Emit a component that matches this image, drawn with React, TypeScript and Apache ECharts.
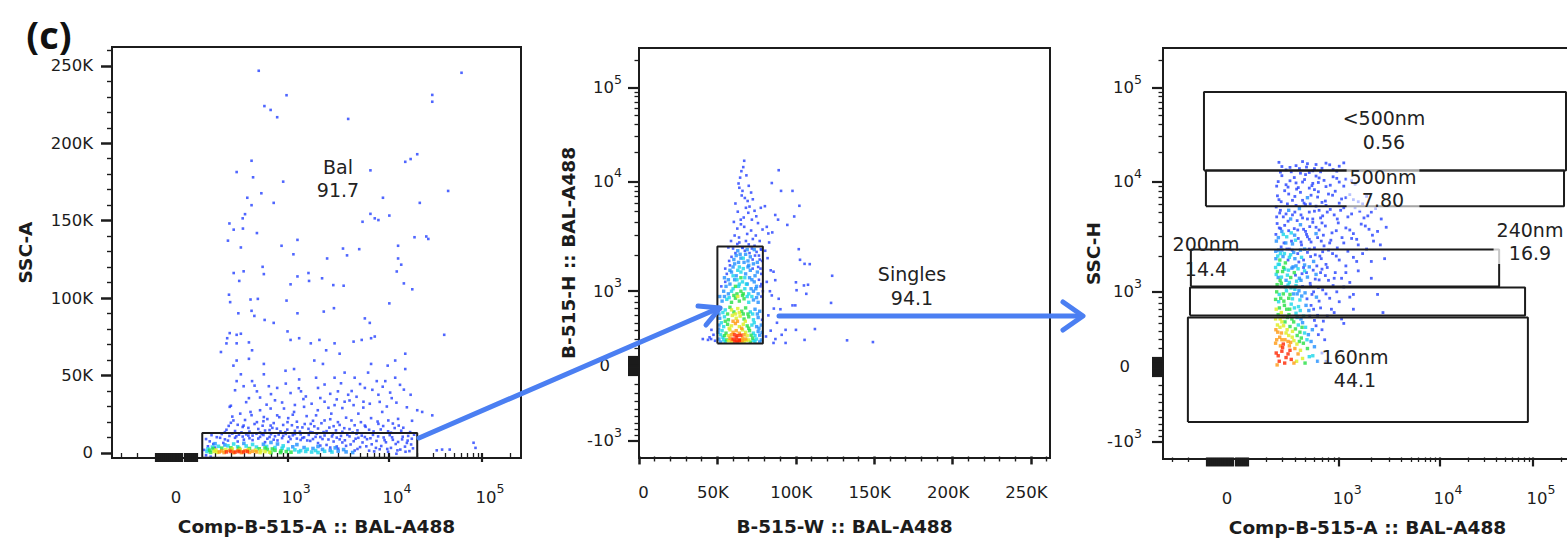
import React, { useEffect, useRef } from "react";
import * as echarts from "echarts";

// ---------- styling constants ----------
const FONT = '"DejaVu Sans", "Noto Sans", sans-serif';
const INK = "#1c1c1c";
const ARROW = "#4b7ff2";
const DENSITY_COLORS = ["#2340ff", "#1f8fff", "#17d6e8", "#25e043", "#dcee1e", "#ff9810", "#ff2400"];

// ---------- axis definitions ----------
const T_MAX = 262144;
const LOGICLE_M = 4.5;
const W_COMP = 0.75; // Comp-B-515-A :: BAL-A488 axis
const W_HEIGHT = 1.0; // B-515-H / SSC-H axes

const LINEAR_MAJOR = [0, 50000, 100000, 150000, 200000, 250000];
const LINEAR_MAJOR_LABELS = ["0", "50K", "100K", "150K", "200K", "250K"];
const LINEAR_MINOR = [10000, 20000, 30000, 40000, 60000, 70000, 80000, 90000, 110000, 120000, 130000, 140000, 160000, 170000, 180000, 190000, 210000, 220000, 230000, 240000, 260000];

const LOG_DECADE_MAJOR = [-1000, 0, 1000, 10000, 100000];
const LOG_ZERO_CLUSTER = [-100, -90, -80, -70, -60, -50, -40, -30, -20, -10, 10, 20, 30, 40, 50, 60, 70, 80, 90, 100];
const LOG_MINOR_MULT = [2, 3, 4, 5, 6, 7, 8, 9];
const LOG_MINOR_DECADES = [100, 1000, 10000, 100000];
const LOG_LABELS = [
  { value: -1000, base: "-10", exp: "3" },
  { value: 0, base: "0", exp: "" },
  { value: 1000, base: "10", exp: "3" },
  { value: 10000, base: "10", exp: "4" },
  { value: 100000, base: "10", exp: "5" },
];

// ---------- panel 1: Comp-B-515-A (x) vs SSC-A (y) ----------
const P1_SPARSE = [
  [545, 246800], [965, 231000], [612, 224000], [695, 221500], [795, 216800], [3780, 215700], [29000, 231200], [29000, 226800],
  [60000, 245500], [20000, 192900], [17000, 189800], [14900, 188000], [6400, 182500], [470, 188700], [342, 181400], [485, 178000],
  [900, 175200], [43000, 169200], [21300, 161500], [8650, 164800], [10100, 153300], [740, 161500], [575, 167700], [430, 164800],
  [470, 160000], [410, 154200], [390, 151500], [290, 148200], [320, 144200], [392, 144900], [525, 142000], [5300, 149300],
  [6400, 154400], [7100, 151500], [7750, 150400], [18700, 139300], [25000, 139800], [26300, 138200], [12500, 133800], [1215, 137600],
  [280, 137100], [375, 132700], [870, 133800], [1115, 128300], [3350, 132000], [3680, 127600], [4900, 131600], [2330, 125600],
  [12500, 125600], [590, 120200], [320, 116200], [398, 117300], [362, 111100], [605, 115500], [1540, 116200], [1215, 114000],
  [1560, 111100], [2080, 112800], [13500, 121600], [14400, 109500], [12100, 117200], [17700, 105700], [2680, 108400], [3400, 108000],
  [1050, 108900], [287, 102200], [295, 97400], [460, 99100], [535, 99500], [965, 98400], [355, 90200], [470, 91800],
  [498, 88500], [615, 85900], [2160, 91300], [1215, 90200], [2720, 93500], [5600, 86900], [6300, 84000], [10100, 96600], [39000, 76300],
  [275, 74100], [292, 77400], [342, 76300], [375, 77000], [270, 70760], [342, 70800], [445, 71400], [475, 66300], [740, 84000],
  [985, 78500], [1050, 73000], [1260, 74100], [1620, 70800], [1960, 73000], [2280, 66300], [2760, 70800], [4290, 71900], [5200, 73000],
  [6500, 74100], [7100, 75200], [3100, 64100], [2120, 57500], [1750, 59700], [1130, 54200], [945, 53100], [605, 57500], [445, 60800],
  [342, 59700], [318, 56400], [375, 50800], [342, 46400], [398, 43100], [475, 46400], [525, 39800], [670, 43100], [795, 42000],
  [1050, 38700], [1310, 39800], [1455, 36500], [1820, 48600], [2200, 44200], [2760, 48600], [3480, 51900], [4400, 48600], [6050, 51900],
  [6500, 57500], [7450, 46400], [9150, 46400], [11650, 48600], [14900, 54200], [17000, 37600], [14400, 40900], [10700, 35400], [7750, 37600],
  [5420, 33100], [4290, 30900], [3480, 33100], [2760, 30900], [2200, 33100], [1890, 27600], [1400, 29800], [1130, 26500], [915, 28700],
  [695, 28700], [560, 27600], [460, 26500], [370, 25400], [318, 21000], [398, 17700], [525, 19900], [695, 17700], [985, 19900],
  [1215, 16600], [1620, 18800], [2200, 21000], [2980, 19900], [4080, 21000], [5600, 17700], [7750, 18800], [9850, 21000], [12700, 17700],
  [20000, 27600], [22600, 26500], [29000, 24300], [445, 35400], [292, 29800], [8500, 26500], [4800, 25400], [2560, 25400], [795, 24300],
  [605, 23200], [2980, 39800], [5600, 42000], [3780, 37600], [1260, 47500], [605, 50800], [235, 65200], [11650, 59700], [14900, 64100],
  [9700, 56400], [37000, 2200], [44700, 2200], [81000, 6600], [85000, 3300], [32400, 1700],
  [270, 15000], [330, 14200], [390, 16800], [450, 13800], [540, 15500], [620, 14500], [720, 16200], [850, 13900], [980, 15100],
  [1150, 14300], [1350, 16500], [1600, 13600], [1900, 15800], [2300, 14100], [2700, 17300], [3300, 13700], [3900, 15400], [4700, 14600],
  [5700, 16900], [6900, 13900], [8200, 15200], [9800, 14000], [11500, 16100], [13500, 14400], [300, 19500], [600, 20500], [1000, 22500],
  [1700, 20800], [3600, 22800], [7600, 20300], [12500, 22000],
];
const P1_BAND = [
  [260, 13500], [285, 17500], [310, 23500], [350, 18200], [380, 13300], [410, 21300], [440, 16200], [470, 24400], [500, 18700],
  [560, 13200], [590, 17600], [650, 21900], [680, 14800], [740, 19300], [790, 15700], [830, 23100], [900, 18100], [940, 13400],
  [1080, 17900], [1100, 24700], [1200, 20200], [1280, 13800], [1420, 18700], [1480, 23800], [1540, 15600], [1680, 13300], [1750, 17200],
  [1820, 24300], [2050, 19200], [2150, 13500], [2450, 16400], [2500, 21800], [2850, 14600], [3100, 18100], [3450, 16000], [4200, 13200],
  [4400, 17900], [5100, 19900], [6200, 15000], [6500, 22500], [8700, 17400], [10500, 13100], [11000, 19000], [14200, 16300], [16800, 13500],
  [17600, 20800], [300, 30500], [420, 32800], [560, 35800], [640, 31200], [760, 34000], [880, 32600], [1150, 31000], [1380, 34800],
  [1650, 31800], [2000, 35500], [2400, 29200], [2900, 34600], [3300, 29000], [3900, 33900], [4600, 36300], [5400, 29300], [6300, 31800],
  [8000, 33000], [9500, 30000], [12000, 32500], [15500, 29500], [330, 40500], [500, 43500], [700, 38000], [950, 44800], [1250, 41800],
  [1900, 42000], [2500, 38200], [3200, 45000], [4100, 40000], [5000, 44500], [6700, 40800], [8600, 42800], [10300, 39000], [13100, 44000],
];
const P1_GATE_BLUE = [
  [150, 9000], [180, 11500], [210, 10200], [240, 12200], [260, 8800], [290, 11000], [310, 12500], [330, 9800], [360, 11800], [390, 10600],
  [420, 12000], [450, 9500], [480, 11200], [520, 12400], [560, 10400], [600, 11600], [650, 9200], [700, 12100], [760, 10800], [820, 11900],
  [880, 9600], [950, 12300], [1020, 10500], [1100, 11400], [1200, 9300], [1300, 12000], [1400, 10100], [1550, 11700], [1700, 9000], [1850, 12400],
  [2000, 10300], [2200, 11300], [2400, 8700], [2650, 12100], [2900, 9900], [3200, 11000], [3500, 8200], [3900, 10700], [4300, 7600], [4800, 9800],
  [5300, 6800], [5900, 8900], [6600, 5600], [7400, 7800], [8300, 4500], [9300, 6900], [10500, 3300], [11800, 5800], [13200, 2200], [14800, 4100],
  [16500, 1200], [18000, 3000], [12000, -500], [9800, 800], [8000, 2400], [6200, 1500], [5000, 3800], [4000, 5500], [3300, 6800], [2700, 7400],
  [2300, 5200], [1900, 6400], [1600, 7800], [1300, 8400], [1000, 7200], [800, 8100], [620, 7000], [480, 8300], [350, 7400], [250, 6500],
  [190, 5800], [160, 4300], [140, 2000], [150, -1500], [175, -2400], [200, 3500], [3000, 2800], [2500, 3500], [4400, 1600], [7000, 1000],
  [15500, 6500], [11000, 8500], [8800, 10000], [6800, 11700], [5600, 10300], [4600, 12400], [17500, 9200], [16000, 11000], [13800, 8800], [10200, 11500],
  [170, 7500], [230, 9800], [280, 8000], [340, 10800], [400, 8600], [440, 11200], [540, 9300], [580, 12200], [680, 10300], [740, 8600],
  [900, 11100], [1050, 9000], [1150, 12200], [1350, 9700], [1500, 8100], [1800, 10400], [2100, 9000], [2600, 10700], [3100, 8800], [3700, 11700],
  [4500, 9200], [5200, 11200], [6400, 9500], [7700, 10700], [9000, 8300], [10800, 10100], [12500, 7100], [14000, 10500], [15800, 8000], [18500, 11800],
  [3600, 4600], [5800, 4300], [7300, 3300], [9600, 2600], [12300, 1700], [15000, 800], [17200, 5500], [2000, 4800], [2900, 4200], [4700, 2600],
];
const P1_CORE = [
  [270, 700, 6], [300, 1000, 6], [330, 600, 6], [360, 900, 6], [395, 700, 6], [430, 1000, 6],
  [240, 1300, 5], [255, 300, 5], [290, 1700, 5], [320, 200, 5], [350, 1600, 5], [380, 250, 5], [410, 1500, 5], [450, 400, 5], [480, 1100, 5], [520, 700, 5], [225, 700, 5],
  [205, 1900, 4], [215, 400, 4], [265, 2200, 4], [310, 2500, 4], [370, 2300, 4], [440, 2100, 4], [510, 1800, 4], [570, 1400, 4], [620, 900, 4], [680, 500, 4], [560, 300, 4], [195, 1000, 4],
  [170, 1800, 3], [190, 2800, 3], [240, 3100, 3], [300, 3300, 3], [360, 3000, 3], [450, 2900, 3], [550, 2700, 3], [650, 2200, 3], [760, 1700, 3], [860, 1300, 3],
  [960, 900, 3], [1060, 500, 3], [850, 300, 3], [700, 200, 3], [175, 400, 3], [620, 3200, 3], [720, 2600, 3],
  [160, 2600, 2], [185, 3800, 2], [220, 4300, 2], [280, 4600, 2], [350, 4000, 2], [420, 4500, 2], [520, 3800, 2], [640, 4200, 2], [760, 3500, 2], [880, 3000, 2],
  [1000, 2500, 2], [1150, 2000, 2], [1300, 1500, 2], [1450, 1000, 2], [1650, 600, 2], [1900, 300, 2], [1250, 700, 2], [1500, 2400, 2], [1800, 1600, 2], [2200, 1100, 2],
  [2600, 600, 2], [480, 5500, 2], [900, 4600, 2], [320, 5800, 2], [155, 900, 2],
  [200, 6000, 1], [260, 5200, 1], [400, 6200, 1], [600, 5600, 1], [800, 5800, 1], [1100, 4000, 1], [1400, 3500, 1], [1700, 2900, 1], [2100, 2300, 1], [2500, 1700, 1],
  [3000, 1200, 1], [3600, 700, 1], [4200, 300, 1], [1900, 4200, 1], [2800, 3300, 1], [3400, 2200, 1], [700, 6800, 1], [1200, 5400, 1],
];
const P1_GATE = { x0: 130, x1: 20000, y0: -3000, y1: 12900 };

// ---------- panel 2: B-515-W (x) vs B-515-H (y) ----------
const P2_SPARSE = [
  [89100, 13000], [84700, 9600], [90600, 8000], [97900, 8000], [102300, 5700], [99000, 4500], [94600, 3750], [86900, 4650], [88700, 4200],
  [101900, 2270], [102700, 1840], [105600, 1700], [108900, 1690], [100100, 1190], [105200, 1120], [107800, 1135], [100500, 1020], [106700, 950],
  [123200, 1350], [122500, 790], [97900, 750], [99700, 750], [85800, 1460], [86900, 1240], [84700, 920], [89100, 860], [90200, 690],
  [93500, 410], [100100, 410], [105600, 290], [112200, 420], [132700, 285], [149200, 265], [93500, 255], [85800, 255], [44000, 290],
  [46200, 410], [40700, 300], [82000, 1900], [84000, 1500], [81500, 1200], [83500, 1000], [86000, 700], [82500, 600], [88000, 500],
  [84000, 400], [81000, 330], [87000, 300], [91000, 350], [80500, 2200], [83000, 2600], [85000, 3200], [81500, 3600],
  [67100, 16300], [65300, 12700], [64500, 10900], [64000, 8600], [66000, 8000], [67500, 6800], [69300, 6350], [71500, 7700], [72600, 6600],
  [68200, 5450], [69700, 4880], [73700, 5100], [74800, 4520], [77700, 5450], [80300, 5650], [64900, 4200], [62700, 3470], [67100, 3600],
  [71500, 3330], [75900, 3900], [78800, 3400], [63800, 2880], [68200, 2680], [72600, 2790], [77000, 2680], [62700, 2520], [66000, 2330],
  [73700, 2430], [77700, 2270], [82500, 3130], [58700, 2680], [66500, 14000], [68500, 11500], [63500, 9500], [70000, 9000], [65500, 7200],
  [61500, 6000], [70500, 5600], [63000, 5000], [66800, 4400], [60500, 4000], [72000, 4200], [65000, 3800], [69000, 3100], [61000, 3000],
  [74500, 3000], [64000, 2600], [70000, 2500], [46000, 300], [47500, 350], [45000, 320], [48500, 280],
];
const P2_CORE = [
  [60000, 2300, 0], [63000, 2200, 1], [66000, 2350, 0], [69000, 2250, 1], [72000, 2300, 0], [75000, 2150, 0], [78000, 2250, 0],
  [59000, 1950, 0], [62000, 2000, 1], [65000, 1900, 1], [68000, 2050, 1], [71000, 1950, 1], [74000, 2000, 0], [77000, 1850, 0],
  [58000, 1650, 0], [61000, 1700, 1], [64000, 1600, 2], [67000, 1750, 1], [70000, 1650, 1], [73000, 1700, 1], [76000, 1600, 0],
  [56000, 1400, 0], [59000, 1450, 1], [62000, 1350, 1], [65000, 1450, 2], [68000, 1400, 1], [71000, 1500, 1], [74000, 1350, 1], [78000, 1400, 0],
  [55000, 1200, 0], [58000, 1150, 1], [61000, 1250, 1], [63500, 1100, 2], [66000, 1200, 2], [69000, 1150, 1], [72000, 1250, 1], [75000, 1100, 1], [78000, 1150, 0],
  [54000, 1000, 1], [57000, 950, 1], [60000, 1050, 2], [62500, 950, 3], [65000, 1000, 3], [67500, 1050, 2], [70000, 950, 2], [73000, 1000, 1], [76000, 950, 1], [79000, 1000, 0],
  [53000, 820, 1], [56000, 850, 2], [59000, 800, 3], [61500, 870, 3], [64000, 820, 3], [67000, 860, 3], [70000, 800, 2], [73000, 840, 1], [76000, 800, 1],
  [52000, 700, 1], [55000, 680, 2], [58000, 720, 3], [60500, 650, 3], [63000, 700, 4], [65500, 660, 3], [68000, 710, 3], [71000, 650, 2], [74000, 690, 1], [77000, 660, 1],
  [51500, 560, 1], [54500, 580, 2], [57000, 540, 3], [59500, 600, 4], [62000, 560, 4], [64500, 590, 4], [67000, 550, 3], [70000, 580, 3], [73000, 540, 2], [76000, 570, 1], [78500, 540, 0],
  [51000, 470, 1], [54000, 450, 2], [56500, 480, 3], [59000, 460, 4], [61500, 490, 5], [64000, 450, 4], [66500, 480, 4], [69000, 460, 3], [72000, 470, 2], [75000, 450, 1], [78000, 470, 1],
  [50500, 380, 1], [53000, 400, 2], [55500, 370, 3], [58000, 410, 4], [60000, 380, 5], [62000, 400, 5], [64000, 370, 5], [66000, 410, 4], [68000, 380, 4], [70500, 400, 3], [73000, 370, 2], [76000, 390, 1], [78500, 380, 1],
  [51000, 300, 1], [53500, 320, 2], [56000, 290, 3], [58000, 310, 5], [60000, 300, 6], [62000, 320, 6], [64000, 290, 6], [66000, 310, 5], [68000, 300, 5], [70000, 290, 4], [72500, 310, 3], [75000, 300, 2], [78000, 290, 1],
  [52000, 265, 1], [55000, 270, 2], [59000, 265, 4], [61000, 275, 6], [63000, 265, 6], [65000, 270, 5], [67000, 268, 4], [71000, 265, 3], [74000, 270, 2], [77000, 266, 1],
  [57000, 2350, 0], [61500, 2100, 0], [64500, 2050, 1], [67500, 2200, 0], [70500, 2100, 0], [73500, 2250, 1], [76500, 2000, 0],
  [57500, 1800, 0], [60500, 1850, 1], [63500, 1750, 1], [66500, 1900, 2], [69500, 1800, 1], [72500, 1850, 0], [75500, 1750, 1], [78500, 1800, 0],
  [55000, 1550, 0], [58000, 1500, 1], [60000, 1600, 1], [63000, 1500, 2], [66500, 1550, 2], [69500, 1600, 1], [72500, 1550, 0], [75500, 1450, 1], [77500, 1550, 0],
  [54500, 1300, 1], [57000, 1250, 1], [60000, 1350, 2], [62500, 1250, 2], [65000, 1300, 3], [67500, 1300, 2], [70500, 1300, 1], [73500, 1200, 1], [76500, 1250, 0],
  [52500, 1100, 0], [55500, 1100, 1], [59000, 1000, 2], [61500, 1100, 3], [64000, 1150, 2], [66500, 950, 3], [68500, 1150, 2], [71500, 1050, 1], [74500, 1050, 1], [77500, 1100, 0],
  [51500, 900, 1], [54500, 900, 1], [57500, 880, 2], [60500, 920, 3], [63000, 900, 4], [66000, 920, 3], [69000, 900, 2], [72000, 900, 2], [75000, 880, 1], [78000, 900, 0],
  [51000, 620, 1], [53500, 640, 2], [56500, 620, 3], [59000, 680, 4], [61500, 620, 4], [64000, 640, 4], [66500, 620, 3], [69500, 620, 3], [72500, 620, 2], [75500, 620, 1],
  [50800, 420, 1], [52500, 500, 2], [55000, 520, 3], [57500, 430, 4], [60000, 520, 5], [62800, 520, 5], [65500, 430, 5], [67800, 520, 4], [70000, 430, 3], [73500, 500, 2], [76500, 430, 1],
  [52000, 350, 2], [54500, 340, 3], [57000, 340, 4], [59000, 350, 5], [61000, 350, 6], [63000, 340, 6], [65000, 345, 6], [67000, 350, 5], [69000, 340, 4], [71500, 345, 3], [74000, 340, 2], [77000, 345, 1],
  [54000, 290, 2], [57000, 280, 4], [59000, 290, 5], [62000, 285, 6], [64000, 285, 6], [66000, 285, 5], [68500, 285, 4], [73000, 285, 2],
];
const P2_GATE = { x0: 50000, x1: 79000, y0: 250, y1: 2400 };

// ---------- panel 3: Comp-B-515-A (x) vs SSC-H (y) ----------
const P3_POINTS = [
  [262, 150, 6], [282, 60, 6], [305, 210, 6], [330, 100, 6], [360, 180, 6], [392, 40, 5], [428, 140, 5], [470, 90, 4], [520, 200, 3], [580, 120, 2], [640, 60, 1],
  [275, 120, 6], [300, 170, 6], [320, 40, 6], [345, 140, 6], [370, 80, 6], [290, 230, 5], [355, 230, 5], [400, 200, 5], [268, 20, 5], [415, 60, 4], [450, 180, 4],
  [495, 40, 3], [540, 110, 2], [600, 220, 1], [700, 150, 0], [760, 60, 0],
  [260, 420, 5], [285, 330, 5], [312, 470, 4], [345, 280, 5], [380, 400, 4], [420, 350, 3], [465, 450, 3], [515, 300, 2], [575, 420, 1], [650, 360, 0], [740, 300, 0],
  [300, 300, 5], [330, 380, 4], [265, 300, 5], [360, 460, 3], [440, 280, 3], [490, 380, 2], [620, 470, 0], [700, 420, 0],
  [262, 700, 4], [288, 560, 4], [318, 760, 3], [352, 620, 3], [390, 520, 3], [432, 740, 2], [480, 600, 2], [535, 680, 1], [600, 540, 0], [680, 720, 0], [780, 600, 0], [900, 650, 0], [1050, 560, 0],
  [275, 620, 3], [300, 520, 4], [335, 700, 3], [370, 780, 2], [410, 640, 2], [455, 560, 1], [560, 760, 0], [640, 610, 0],
  [265, 1000, 3], [292, 880, 3], [325, 1100, 2], [360, 950, 3], [400, 1050, 2], [445, 850, 2], [495, 980, 1], [555, 1120, 0], [625, 900, 1], [710, 1040, 0], [820, 880, 0], [950, 1000, 0], [1100, 1100, 0], [1350, 950, 0],
  [278, 820, 2], [310, 960, 3], [345, 1140, 2], [380, 870, 2], [420, 960, 1], [470, 1110, 0], [590, 1000, 0], [660, 830, 0],
  [262, 1400, 2], [288, 1250, 3], [320, 1550, 2], [355, 1200, 2], [395, 1450, 3], [440, 1300, 1], [490, 1500, 2], [550, 1180, 0], [620, 1400, 1], [700, 1550, 0], [800, 1250, 0], [920, 1450, 0], [1050, 1300, 0], [1250, 1200, 0], [1500, 1500, 0],
  [275, 1320, 1], [305, 1480, 3], [340, 1380, 2], [375, 1580, 1], [415, 1230, 2], [465, 1420, 0], [520, 1330, 1], [585, 1520, 0], [660, 1260, 0], [750, 1370, 0],
  [260, 1900, 1], [290, 2100, 2], [325, 1750, 3], [365, 2050, 2], [410, 1650, 1], [460, 1950, 2], [520, 2150, 0], [590, 1800, 1], [670, 2000, 0], [760, 1700, 0], [870, 2100, 0], [1000, 1850, 0], [1150, 1650, 0], [1350, 1950, 0], [1650, 2100, 0], [2000, 1800, 0],
  [275, 1700, 2], [308, 1980, 1], [345, 1850, 0], [390, 2150, 1], [435, 1780, 0], [490, 1680, 1], [555, 1980, 0], [630, 1650, 0], [710, 2180, 0],
  [263, 2700, 1], [295, 2400, 0], [335, 2950, 2], [380, 2550, 1], [430, 2850, 0], [490, 2300, 1], [560, 2650, 0], [640, 2900, 0], [730, 2450, 0], [840, 2750, 0], [960, 2350, 0], [1100, 2600, 0], [1300, 2850, 0], [1500, 2500, 0], [1800, 2300, 0], [2100, 2700, 0],
  [278, 2250, 1], [315, 2600, 0], [355, 2300, 0], [405, 2750, 2], [460, 2500, 0], [520, 2950, 0], [600, 2350, 0], [690, 2700, 0],
  [268, 3900, 0], [300, 3300, 1], [345, 4100, 0], [395, 3500, 0], [450, 3800, 1], [510, 3100, 0], [580, 4000, 0], [660, 3400, 0], [750, 3700, 0], [860, 3200, 0], [980, 3950, 0], [1150, 3550, 0], [1350, 3150, 0], [1600, 3850, 0], [1900, 3450, 0], [2300, 3300, 0],
  [282, 3550, 0], [320, 3750, 0], [370, 3200, 2], [420, 4150, 0], [480, 3450, 0], [545, 3650, 0], [620, 3150, 1], [700, 3950, 0],
  [262, 5600, 0], [310, 4500, 0], [350, 5200, 1], [410, 5800, 0], [470, 4400, 0], [540, 5000, 0], [620, 5700, 0], [710, 4600, 0], [830, 5300, 0], [960, 4300, 0], [1100, 5500, 0], [1300, 4800, 0], [1550, 5100, 0], [1850, 4600, 0], [2200, 5400, 0],
  [285, 4900, 0], [380, 4700, 0], [440, 5400, 1], [500, 5900, 0], [580, 4300, 0], [660, 5200, 0], [760, 5800, 0],
  [270, 7200, 0], [320, 8100, 0], [380, 6500, 0], [450, 7800, 0], [520, 6900, 1], [600, 8300, 0], [700, 6200, 0], [800, 7500, 0], [920, 8000, 0], [1050, 6700, 0], [1250, 7400, 0], [1500, 6300, 0], [1800, 7100, 0],
  [295, 6300, 0], [350, 7500, 0], [415, 8400, 0], [485, 6100, 0], [560, 7300, 0], [650, 7900, 0],
  [265, 9000, 0], [300, 11500, 0], [360, 10200, 0], [430, 8700, 0], [500, 11800, 0], [580, 9600, 0], [660, 10900, 0], [760, 8900, 0], [880, 11200, 0], [1000, 9900, 0], [1150, 10600, 0], [1400, 9400, 0],
  [330, 9300, 0], [395, 11000, 0], [470, 9900, 0], [540, 8600, 0], [620, 11400, 0],
  [280, 15800, 0], [330, 13200, 0], [410, 14600, 0], [470, 16100, 0], [540, 12400, 0], [620, 15000, 0], [700, 13700, 0], [820, 14900, 0], [950, 12800, 0], [1100, 15600, 0],
  [370, 12600, 0], [440, 13600, 0], [510, 14100, 0], [580, 12900, 0], [300, 14300, 0],
  [2600, 650, 0], [2300, 950, 0], [2000, 1300, 0], [2700, 1900, 0], [2450, 2500, 0], [2800, 3600, 0], [2500, 4300, 0], [1250, 900, 0], [1100, 500, 0], [1350, 700, 0],
  [258, 260, 5], [272, 390, 5], [287, 450, 4], [297, 380, 5], [310, 250, 6], [322, 300, 5], [338, 420, 4], [350, 350, 4], [365, 270, 5], [378, 330, 4],
  [392, 290, 4], [405, 430, 3], [418, 250, 4], [430, 480, 2], [445, 390, 3], [458, 320, 3], [478, 260, 3], [500, 450, 2], [530, 360, 1], [560, 280, 1],
  [258, 560, 4], [270, 480, 4], [283, 720, 3], [296, 650, 4], [309, 590, 4], [322, 520, 3], [340, 580, 3], [358, 700, 3], [375, 560, 3], [396, 720, 2],
  [420, 580, 2], [448, 680, 2], [470, 510, 1], [505, 760, 1], [545, 600, 0], [590, 700, 0], [720, 530, 0], [850, 700, 0],
  [258, 860, 3], [268, 1150, 3], [282, 950, 2], [296, 1180, 3], [314, 830, 3], [333, 1020, 2], [350, 880, 3], [368, 1080, 2], [388, 960, 1], [410, 1130, 2],
  [436, 1020, 1], [462, 920, 1], [515, 870, 0], [570, 950, 0], [650, 1090, 0], [760, 960, 0], [880, 1130, 0], [1000, 820, 0],
  [258, 1600, 2], [270, 1480, 3], [283, 1700, 2], [297, 1330, 2], [312, 1600, 3], [330, 1250, 1], [348, 1520, 2], [366, 1320, 3], [385, 1620, 1], [405, 1380, 0],
  [428, 1560, 2], [455, 1250, 1], [480, 1600, 0], [510, 1450, 0], [540, 1620, 1], [610, 1280, 0], [680, 1450, 0], [780, 1600, 0], [900, 1300, 0], [1150, 1450, 0],
  [259, 2200, 1], [272, 2000, 2], [286, 1850, 3], [300, 2250, 1], [318, 2100, 2], [336, 2300, 0], [355, 1950, 2], [378, 2250, 0], [400, 1900, 1], [425, 2100, 0],
  [450, 2250, 1], [480, 1850, 0], [540, 2300, 0], [610, 2050, 0], [690, 1900, 0], [800, 2250, 0], [940, 2000, 0], [1200, 2200, 0], [1450, 1800, 0],
  [260, 3100, 0], [276, 2900, 1], [292, 3500, 0], [310, 3100, 2], [328, 2600, 1], [350, 3350, 0], [372, 2700, 0], [398, 3050, 1], [425, 3400, 0], [455, 2650, 0],
  [500, 3300, 0], [540, 2800, 0], [620, 3600, 0], [720, 3050, 0], [820, 2600, 0], [940, 3350, 0], [1060, 2900, 0], [1250, 3400, 0], [1450, 2800, 0], [1750, 3700, 0], [2050, 3050, 0],
  [265, 4500, 0], [290, 5200, 0], [330, 4800, 0], [365, 4300, 1], [400, 5000, 0], [455, 4700, 0], [520, 4300, 0], [600, 5100, 0], [680, 4400, 0], [780, 5000, 0],
  [900, 4700, 0], [1030, 5200, 0], [1200, 4500, 0], [1400, 5500, 0], [1700, 4400, 0], [2000, 5000, 0],
  [280, 6600, 0], [340, 6000, 0], [400, 7100, 0], [470, 6500, 0], [550, 6000, 0], [640, 7000, 0], [750, 6400, 0], [870, 7300, 0], [1000, 6100, 0], [1150, 6900, 0], [1350, 6600, 0], [1650, 6000, 0],
  [275, 10000, 0], [345, 8800, 0], [410, 9700, 0], [490, 10500, 0], [570, 9100, 0], [650, 9800, 0], [730, 10300, 0], [830, 9200, 0], [950, 10800, 0], [1100, 9000, 0], [1300, 10200, 0],
  [290, 12500, 0], [360, 14000, 0], [450, 12200, 0], [520, 15300, 0], [600, 13600, 0], [680, 12600, 0], [760, 15500, 0], [880, 13300, 0], [1000, 14400, 0],
];
const P3_GATES = [
  { name: "<500nm", x0: -113, x1: 228000, y0: 13000, y1: 89500 },
  { name: "500nm", x0: -103, x1: 217000, y0: 5700, y1: 13000 },
  { name: "200nm", x0: -183, x1: 43000, y0: 1108, y1: 2280 },
  { name: "240nm", x0: -188, x1: 82000, y0: 606, y1: 1087 },
  { name: "160nm", x0: -200, x1: 88000, y0: -664, y1: 578 },
];

// ---------- logicle (biexponential) scale ----------
function logicle(W: number) {
  const w = W * Math.LN10;
  const m = LOGICLE_M * Math.LN10;
  let lo = 1.000001, hi = 1000;
  for (let i = 0; i < 200; i++) {
    const mid = (lo + hi) / 2;
    if ((2 * mid * Math.log(mid)) / (mid + 1) > w) hi = mid; else lo = mid;
  }
  const p = (lo + hi) / 2;
  const k = T_MAX * Math.exp(-(m - w));
  const S = (x: number): number =>
    x >= w ? k * (Math.exp(x - w) - p * p * Math.exp(-(x - w) / p) + p * p - 1) : -S(2 * w - x);
  return (v: number) => {
    let a = -m, b = 2 * m;
    for (let i = 0; i < 70; i++) {
      const c = (a + b) / 2;
      if (S(c) < v) a = c; else b = c;
    }
    return (a + b) / 2 / Math.LN10;
  };
}
const tComp = logicle(W_COMP);
const tHeight = logicle(W_HEIGHT);
const ident = (v: number) => v;

// axis display ranges (in logicle decades / raw linear units)
const COMP_RANGE = [0.054, 4.504];
const HEIGHT_RANGE = [-0.017, 4.514];
const SSCA_RANGE = [-3240, 262144];
const WIDTH_RANGE = [0, 262144];

const TITLE_STYLE = { fontFamily: FONT, fontSize: 18.5, fontWeight: "bold", color: INK };
const tick = (w: number) => ({ color: INK, width: w });

function near(a: number, b: number) { return Math.abs(a - b) < 1e-6; }

function linearAxes(dim: "x" | "y", gridIndex: number, range: number[], margin: number, name: string, nameGap: number) {
  const rich = {
    a: { fontFamily: FONT, fontSize: 16.5, color: INK },
    sp: { width: 9, fontFamily: FONT, fontSize: 16.5 },
  };
  const fmt = (v: number) => {
    const i = LINEAR_MAJOR.findIndex((m) => near(m, v));
    const t = i >= 0 ? LINEAR_MAJOR_LABELS[i] : "";
    if (dim === "y") return `{a|${t}}`;
    return v === 0 ? `{sp|\u00a0}{a|${t}}` : `{a|${t}}{sp|\u00a0}`;
  };
  const common = {
    gridIndex, type: "value", min: range[0], max: range[1], position: dim === "x" ? "bottom" : "left",
    axisLine: { show: false }, splitLine: { show: false },
  };
  return [
    {
      ...common,
      axisTick: { show: true, customValues: LINEAR_MAJOR, length: dim === "x" ? 8 : 11, lineStyle: tick(2.5) },
      axisLabel: { show: true, customValues: LINEAR_MAJOR, margin, formatter: fmt, rich, color: INK },
      name, nameLocation: "middle", nameGap, nameTextStyle: TITLE_STYLE,
    },
    {
      ...common,
      axisTick: { show: true, customValues: LINEAR_MINOR, length: 5, lineStyle: tick(1.4) },
      axisLabel: { show: false },
    },
  ];
}

function logAxes(dim: "x" | "y", gridIndex: number, t: (v: number) => number, range: number[], margin: number, name: string, nameGap: number) {
  const inRange = (d: number) => d >= range[0] && d <= range[1];
  const minorRaw: number[] = [];
  LOG_MINOR_DECADES.forEach((d) => LOG_MINOR_MULT.forEach((mult) => { minorRaw.push(mult * d); if (d <= 1000) minorRaw.push(-mult * d); }));
  const major = [...LOG_DECADE_MAJOR, ...LOG_ZERO_CLUSTER].map(t).filter(inRange);
  const minor = minorRaw.map(t).filter(inRange);
  const labels = LOG_LABELS.map((l) => ({ pos: t(l.value), ...l })).filter((l) => inRange(l.pos));
  const rich = {
    b: { fontFamily: FONT, fontSize: 16.5, lineHeight: 30, color: INK },
    s: { fontFamily: FONT, fontSize: 12.5, lineHeight: 12, verticalAlign: "top", color: INK },
    sp: { width: 16, fontFamily: FONT, fontSize: 16.5, lineHeight: 30 },
    sr: { width: 12, fontFamily: FONT, fontSize: 16.5, lineHeight: 30 },
  };
  const fmt = (v: number) => {
    const l = labels.find((q) => Math.abs(q.pos - v) < 1e-6);
    if (!l) return "";
    if (l.exp === "") return dim === "x" ? `{b|${l.base}}` : `{b|${l.base}}{sr|\u00a0}`;
    return dim === "x" ? `{sp|\u00a0}{b|${l.base}}{s|${l.exp}}` : `{b|${l.base}}{s|${l.exp}}`;
  };
  const common = {
    gridIndex, type: "value", min: range[0], max: range[1], position: dim === "x" ? "bottom" : "left",
    axisLine: { show: false }, splitLine: { show: false },
  };
  return [
    {
      ...common,
      axisTick: { show: true, customValues: major, length: dim === "x" ? 9 : 11, lineStyle: tick(2.2) },
      axisLabel: { show: true, customValues: labels.map((l) => l.pos), margin, formatter: fmt, rich, color: INK },
      name, nameLocation: "middle", nameGap, nameTextStyle: TITLE_STYLE,
    },
    {
      ...common,
      axisTick: { show: true, customValues: minor, length: 4.5, lineStyle: tick(1.3) },
      axisLabel: { show: false },
    },
  ];
}

function rectPath(g: { x0: number; x1: number; y0: number; y1: number }, fx: (v: number) => number, fy: (v: number) => number) {
  return [
    [fx(g.x0), fy(g.y0)], [fx(g.x1), fy(g.y0)], [fx(g.x1), fy(g.y1)], [fx(g.x0), fy(g.y1)], [fx(g.x0), fy(g.y0)],
  ];
}

function scatterSeries(idx: number, pts: number[][], fx: (v: number) => number, fy: (v: number) => number, small: number, big: number) {
  const data = pts
    .map((p) => [fx(p[0]), fy(p[1]), p[2]])
    .sort((a, b) => a[2] - b[2]);
  return {
    type: "scatter", xAxisIndex: idx, yAxisIndex: idx, data, symbol: "rect",
    symbolSize: (v: number[]) => (v[2] === 0 ? small : big),
    itemStyle: { color: (p: any) => DENSITY_COLORS[p.data[2]] },
    silent: true, z: 2,
  };
}

function gateSeries(idx: number, g: any, fx: (v: number) => number, fy: (v: number) => number) {
  return {
    type: "line", xAxisIndex: idx, yAxisIndex: idx, data: rectPath(g, fx, fy), symbol: "none", showSymbol: false,
    lineStyle: { color: INK, width: 2 }, silent: true, z: 5,
  };
}

function label(text: string, x: number, y: number, lh: number, bg?: string) {
  return {
    type: "text", x, y, z: 100,
    style: {
      text, fill: "#222", fontFamily: FONT, fontSize: 19, lineHeight: lh,
      align: "center", verticalAlign: "middle", textAlign: "center", textVerticalAlign: "middle",
      backgroundColor: bg || "transparent", padding: bg ? [0, 3] : 0,
    },
  };
}

function buildOption() {
  const grids = [
    { left: 112, top: 47, width: 409, height: 411 },
    { left: 639, top: 48, width: 411, height: 410 },
    { left: 1163, top: 48, width: 409, height: 411 },
  ].map((g) => ({ ...g, show: true, borderColor: INK, borderWidth: 2, backgroundColor: "transparent", containLabel: false, outerBoundsMode: "none" }));

  const xAxis = [
    ...logAxes("x", 0, tComp, COMP_RANGE, 24, "Comp-B-515-A :: BAL-A488", 59),
    ...linearAxes("x", 1, WIDTH_RANGE, 26, "B-515-W :: BAL-A488", 59),
    ...logAxes("x", 2, tComp, COMP_RANGE, 24, "Comp-B-515-A :: BAL-A488", 59),
  ];
  const yAxis = [
    ...linearAxes("y", 0, SSCA_RANGE, 19, "SSC-A", 77),
    ...logAxes("y", 1, tHeight, HEIGHT_RANGE, 17, "B-515-H :: BAL-A488", 61),
    ...logAxes("y", 2, tHeight, HEIGHT_RANGE, 21, "SSC-H", 60),
  ];

  const p1 = [
    ...P1_SPARSE.map((p) => [p[0], p[1], 0]),
    ...P1_BAND.map((p) => [p[0], p[1], 0]),
    ...P1_GATE_BLUE.map((p) => [p[0], p[1], 0]),
    ...P1_CORE,
  ];
  const p2 = [...P2_SPARSE.map((p) => [p[0], p[1], 0]), ...P2_CORE];

  const series = [
    scatterSeries(0, p1, tComp, ident, 2.6, 3.6),
    gateSeries(0, P1_GATE, tComp, ident),
    scatterSeries(2, p2, ident, tHeight, 2.6, 3.4),
    gateSeries(2, P2_GATE, ident, tHeight),
    scatterSeries(4, P3_POINTS, tComp, tHeight, 2.8, 3.4),
    ...P3_GATES.map((g) => gateSeries(4, g, tComp, tHeight)),
  ];

  const arrowStyle = { stroke: ARROW, lineWidth: 5, lineCap: "round", lineJoin: "round", fill: "none" };
  const graphic = [
    {
      type: "text", x: 49, y: 34, z: 100,
      style: { text: "(c)", fill: "#111", fontFamily: '"Open Sans", "Noto Sans", sans-serif', fontWeight: "bold", fontSize: 38, align: "center", verticalAlign: "middle", textAlign: "center", textVerticalAlign: "middle" },
    },
    { type: "line", z: 90, shape: { x1: 419, y1: 438, x2: 719, y2: 308 }, style: arrowStyle },
    { type: "polyline", z: 90, shape: { points: [[698, 306], [720, 308], [706, 325]] }, style: arrowStyle },
    { type: "line", z: 90, shape: { x1: 779, y1: 316, x2: 1081, y2: 316 }, style: arrowStyle },
    { type: "polyline", z: 90, shape: { points: [[1063, 302], [1083, 316], [1063, 330]] }, style: arrowStyle },
    label("Bal\n91.7", 338, 178, 23),
    label("Singles\n94.1", 912, 286, 24),
    label("<500nm\n0.56", 1384, 130, 24),
    label("500nm\n7.80", 1383, 188, 23, "rgba(255,255,255,0.6)"),
    label("200nm\n14.4", 1206, 256, 25),
    label("240nm\n16.9", 1530, 241, 23, "rgba(255,255,255,0.75)"),
    label("160nm\n44.1", 1355, 368, 23, "rgba(255,255,255,0.55)"),
  ];

  return { animation: false, backgroundColor: "#ffffff", grid: grids, xAxis, yAxis, series, graphic };
}

export default function App() {
  const ref = useRef<HTMLDivElement>(null);
  useEffect(() => {
    if (!ref.current) return;
    const chart = echarts.init(ref.current, null, { renderer: "svg", width: 1567, height: 539 });
    chart.setOption(buildOption() as any);
    return () => chart.dispose();
  }, []);
  return (
    <div
      ref={ref}
      style={{ position: "absolute", left: 0, top: 0, width: 1567, height: 539, background: "#ffffff" }}
    />
  );
}
